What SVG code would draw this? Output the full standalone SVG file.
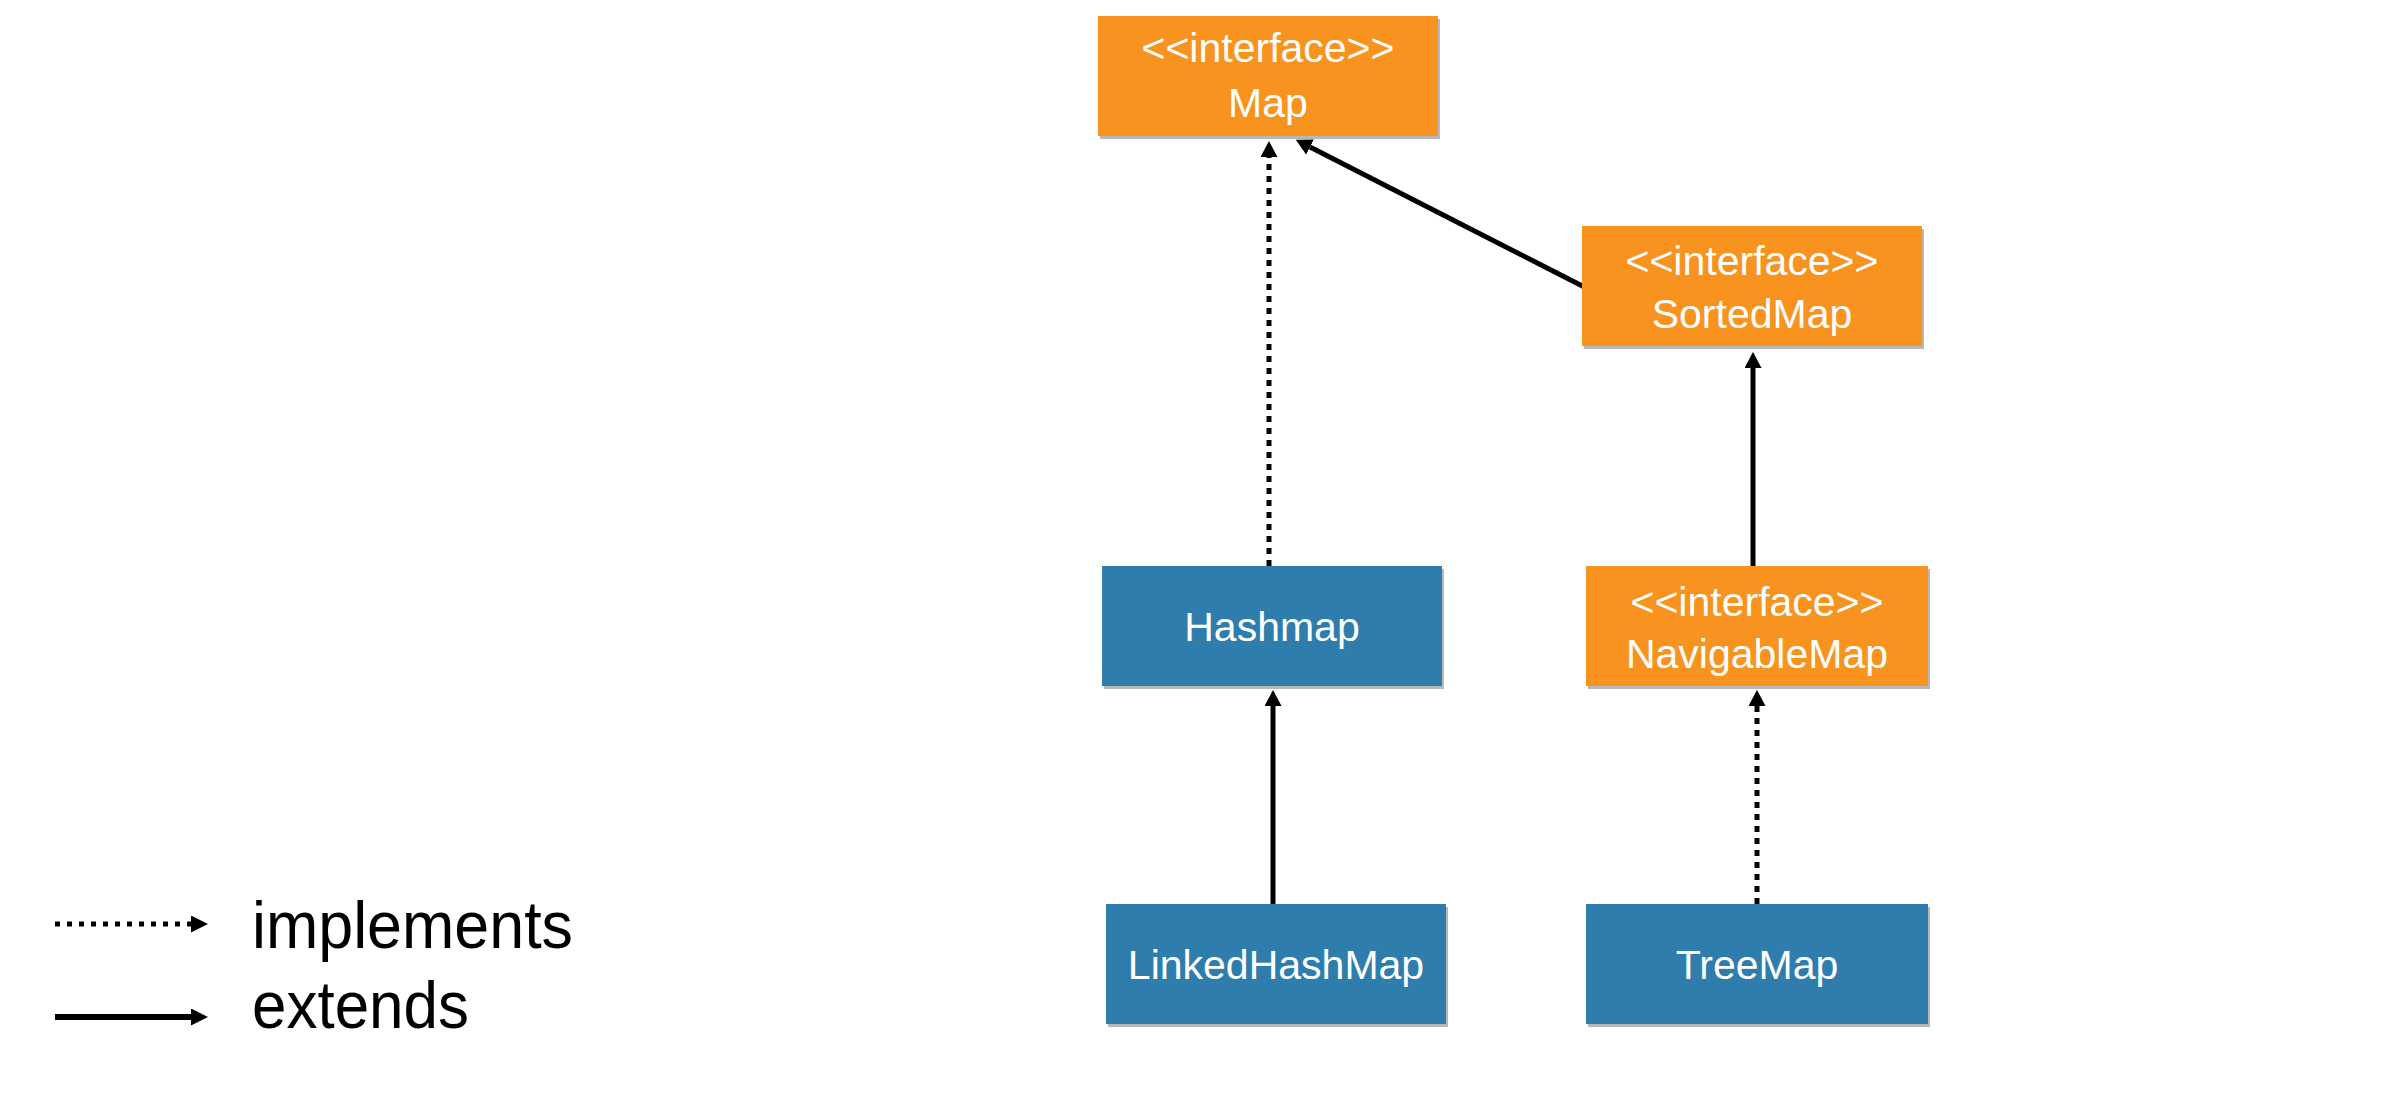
<svg xmlns="http://www.w3.org/2000/svg" width="2396" height="1094" viewBox="0 0 2396 1094">
<style>
.bg{fill:#ffffff}
.sh{fill:#9a9a9a;opacity:0.7}
.iface{fill:#F7931E}
.cls{fill:#2F7DAD}
.t{font-family:"Liberation Sans",Arial,sans-serif;font-size:41px;fill:#ffffff;text-anchor:middle}
.lg{font-family:"Liberation Sans",Arial,sans-serif;font-size:66px;fill:#000000}
.solid{stroke:#000;stroke-width:5;fill:none}
.dot{stroke:#000;stroke-width:5;fill:none;stroke-dasharray:6 6}
.ldot{stroke:#000;stroke-width:5;fill:none;stroke-dasharray:5 7}
.lsolid{stroke:#000;stroke-width:6;fill:none}
</style>
<defs>
<marker id="ah" viewBox="0 0 16 17" refX="0" refY="8.5" markerWidth="16" markerHeight="17" markerUnits="userSpaceOnUse" orient="auto">
<path d="M0,0 L16,8.5 L0,17 z" fill="#000"/>
</marker>
<marker id="ahs" viewBox="0 0 17 17" refX="0" refY="8.5" markerWidth="17" markerHeight="17" markerUnits="userSpaceOnUse" orient="auto">
<path d="M0,0 L17,8.5 L0,17 z" fill="#000"/>
</marker>
</defs>
<rect class="bg" x="0" y="0" width="2396" height="1094"/>
<g id="connectors">
<path class="dot" d="M1269,566 L1269,157" marker-end="url(#ah)"/>
<path class="solid" d="M1598,294 L1310,147" marker-end="url(#ah)"/>
<path class="solid" d="M1753,566 L1753,368" marker-end="url(#ah)"/>
<path class="solid" d="M1273,904 L1273,706" marker-end="url(#ah)"/>
<path class="dot" d="M1757,904 L1757,706" marker-end="url(#ah)"/>
</g>
<g id="Map">
<rect class="sh" x="1100" y="19" width="340" height="120"/>
<rect class="iface" x="1098" y="16" width="340" height="120"/>
<text class="t" x="1268" y="62">&lt;&lt;interface&gt;&gt;</text>
<text class="t" x="1268" y="117">Map</text>
</g>
<g id="SortedMap">
<rect class="sh" x="1584" y="229" width="340" height="120"/>
<rect class="iface" x="1582" y="226" width="340" height="120"/>
<text class="t" x="1752" y="275">&lt;&lt;interface&gt;&gt;</text>
<text class="t" x="1752" y="328">SortedMap</text>
</g>
<g id="Hashmap">
<rect class="sh" x="1104" y="569" width="340" height="120"/>
<rect class="cls" x="1102" y="566" width="340" height="120"/>
<text class="t" x="1272" y="641">Hashmap</text>
</g>
<g id="NavigableMap">
<rect class="sh" x="1588" y="569" width="342" height="120"/>
<rect class="iface" x="1586" y="566" width="342" height="120"/>
<text class="t" x="1757" y="616">&lt;&lt;interface&gt;&gt;</text>
<text class="t" x="1757" y="668">NavigableMap</text>
</g>
<g id="LinkedHashMap">
<rect class="sh" x="1108" y="907" width="340" height="120"/>
<rect class="cls" x="1106" y="904" width="340" height="120"/>
<text class="t" x="1276" y="979">LinkedHashMap</text>
</g>
<g id="TreeMap">
<rect class="sh" x="1588" y="907" width="342" height="120"/>
<rect class="cls" x="1586" y="904" width="342" height="120"/>
<text class="t" x="1757" y="979">TreeMap</text>
</g>
<g id="legend">
<path class="ldot" d="M55,924 L191,924" marker-end="url(#ahs)"/>
<path class="lsolid" d="M55,1017 L191,1017" marker-end="url(#ahs)"/>
<text class="lg" x="252" y="948" textLength="321" lengthAdjust="spacingAndGlyphs">implements</text>
<text class="lg" x="252" y="1028" textLength="217" lengthAdjust="spacingAndGlyphs">extends</text>
</g>
</svg>
